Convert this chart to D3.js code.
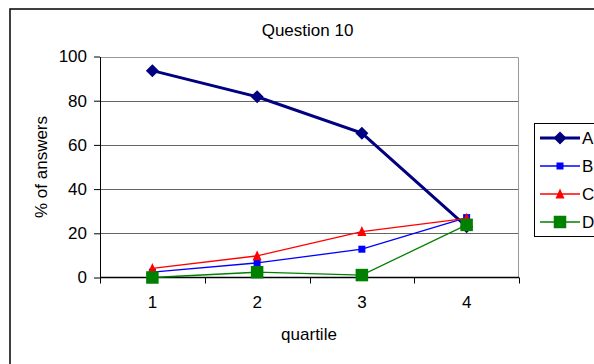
<!DOCTYPE html>
<html>
<head>
<meta charset="utf-8">
<script src="https://cdn.jsdelivr.net/npm/d3@7/dist/d3.min.js"></script>
<style>
  html, body { margin: 0; padding: 0; background: #fff; }
  svg { display: block; }
  text { font-family: "Liberation Sans", Arial, sans-serif; fill: #000; }
</style>
</head>
<body>
<svg id="chart" width="594" height="364"></svg>
<script>
// Quartiles on the x axis
const quartiles = [1, 2, 3, 4];
// Percentage of answers per option, one value per quartile
const seriesA = [93.6, 81.8, 65.3, 23.0];
const seriesB = [2.4, 6.6, 12.8, 27.1];
const seriesC = [4.1, 9.8, 20.8, 26.8];
const seriesD = [0.0, 2.4, 1.1, 23.8];
const seriesNames = ["A", "B", "C", "D"];
const yTicks = [0, 20, 40, 60, 80, 100];

const FONT = 17;

const series = [
  { name: "A", values: seriesA, color: "#000080", width: 3,   marker: "diamond",  size: 13 },
  { name: "B", values: seriesB, color: "#0000ff", width: 1.3, marker: "square",   size: 7 },
  { name: "C", values: seriesC, color: "#ff0000", width: 1.3, marker: "triangle", size: 9 },
  { name: "D", values: seriesD, color: "#008000", width: 1.3, marker: "square",   size: 12.5 }
];

const svg = d3.select("#chart");
const plot = { left: 100, right: 519, top: 56.5, bottom: 277.5 };

const x = d3.scaleBand().domain(quartiles).range([plot.left, plot.right]);
const y = d3.scaleLinear().domain([0, 100]).range([plot.bottom, plot.top]);
const cx = d => x(d) + x.bandwidth() / 2;

// Outer chart frame (runs past the right and bottom edges)
svg.append("rect")
  .attr("x", 10).attr("y", 9).attr("width", 600).attr("height", 380)
  .attr("fill", "none").attr("stroke", "#000").attr("stroke-width", 1.5);

// Title
svg.append("text").attr("x", 307.5).attr("y", 36)
  .attr("text-anchor", "middle").attr("font-size", FONT).text("Question 10");

// Horizontal gridlines
svg.append("g").selectAll("line").data(yTicks.filter(t => t > 0 && t < 100)).join("line")
  .attr("x1", plot.left).attr("x2", plot.right)
  .attr("y1", d => Math.round(y(d)) + 0.5).attr("y2", d => Math.round(y(d)) + 0.5)
  .attr("stroke", "#666").attr("stroke-width", 1);

// Plot area border (top and right)
svg.append("path")
  .attr("d", `M${plot.left},${Math.round(plot.top) + 0.5}H${plot.right - 0.5}V${plot.bottom}`)
  .attr("fill", "none").attr("stroke", "#999").attr("stroke-width", 1);

// Y axis
const yAxis = d3.axisLeft(y).tickValues(yTicks).tickSize(6).tickPadding(7).tickSizeOuter(0);
const gy = svg.append("g").attr("transform", `translate(${plot.left},0)`).call(yAxis);
gy.select(".domain").attr("stroke", "#000");
gy.selectAll(".tick line").attr("stroke", "#000");
gy.selectAll(".tick text").attr("font-size", FONT)
  .attr("font-family", "Liberation Sans, Arial, sans-serif").attr("fill", "#000");

// X axis: ticks between categories
const gx = svg.append("g").attr("transform", `translate(0,${plot.bottom})`);
gx.append("line").attr("x1", plot.left).attr("x2", plot.right).attr("stroke", "#000").attr("stroke-width", 1.5);
const boundaries = quartiles.map(q => x(q)).concat([x(quartiles[quartiles.length - 1]) + x.bandwidth()]);
gx.selectAll("line.tk").data(boundaries).join("line").attr("class", "tk")
  .attr("x1", d => Math.round(d) + 0.5).attr("x2", d => Math.round(d) + 0.5)
  .attr("y1", 0).attr("y2", 6).attr("stroke", "#000");
gx.selectAll("text").data(quartiles).join("text")
  .attr("x", d => cx(d)).attr("y", 30)
  .attr("text-anchor", "middle").attr("font-size", FONT).text(d => d);

// Axis titles
svg.append("text").attr("x", 309).attr("y", 340)
  .attr("text-anchor", "middle").attr("font-size", FONT).text("quartile");
svg.append("text")
  .attr("transform", `translate(47,167) rotate(-90)`)
  .attr("text-anchor", "middle").attr("font-size", FONT).text("% of answers");

// Marker drawing
function drawMarker(sel, s) {
  const h = s.size / 2;
  if (s.marker === "diamond") {
    sel.append("path").attr("d", `M0,${-h}L${h},0L0,${h}L${-h},0Z`).attr("fill", s.color);
  } else if (s.marker === "square") {
    sel.append("rect").attr("x", -h).attr("y", -h).attr("width", s.size).attr("height", s.size).attr("fill", s.color);
  } else {
    sel.append("path").attr("d", `M0,${-h - 1}L${h},${h}L${-h},${h}Z`).attr("fill", s.color);
  }
}

// Series lines and markers
const line = d3.line().x((v, i) => cx(quartiles[i])).y(v => y(v));
series.forEach(s => {
  const g = svg.append("g");
  g.append("path").attr("d", line(s.values))
    .attr("fill", "none").attr("stroke", s.color).attr("stroke-width", s.width);
  s.values.forEach((v, i) => {
    const m = g.append("g").attr("transform", `translate(${cx(quartiles[i])},${y(v)})`);
    drawMarker(m, s);
  });
});

// Legend
const legend = svg.append("g");
legend.append("rect").attr("x", 534.5).attr("y", 123.5).attr("width", 80).attr("height", 113)
  .attr("fill", "#fff").attr("stroke", "#000").attr("stroke-width", 1);
series.forEach((s, i) => {
  const ly = 138 + i * 28;
  const g = legend.append("g");
  g.append("line").attr("x1", 540).attr("x2", 580).attr("y1", ly).attr("y2", ly)
    .attr("stroke", s.color).attr("stroke-width", s.width);
  drawMarker(g.append("g").attr("transform", `translate(560,${ly})`), s);
  g.append("text").attr("x", 582).attr("y", ly + 6).attr("font-size", FONT).text(seriesNames[i]);
});
</script>
</body>
</html>
